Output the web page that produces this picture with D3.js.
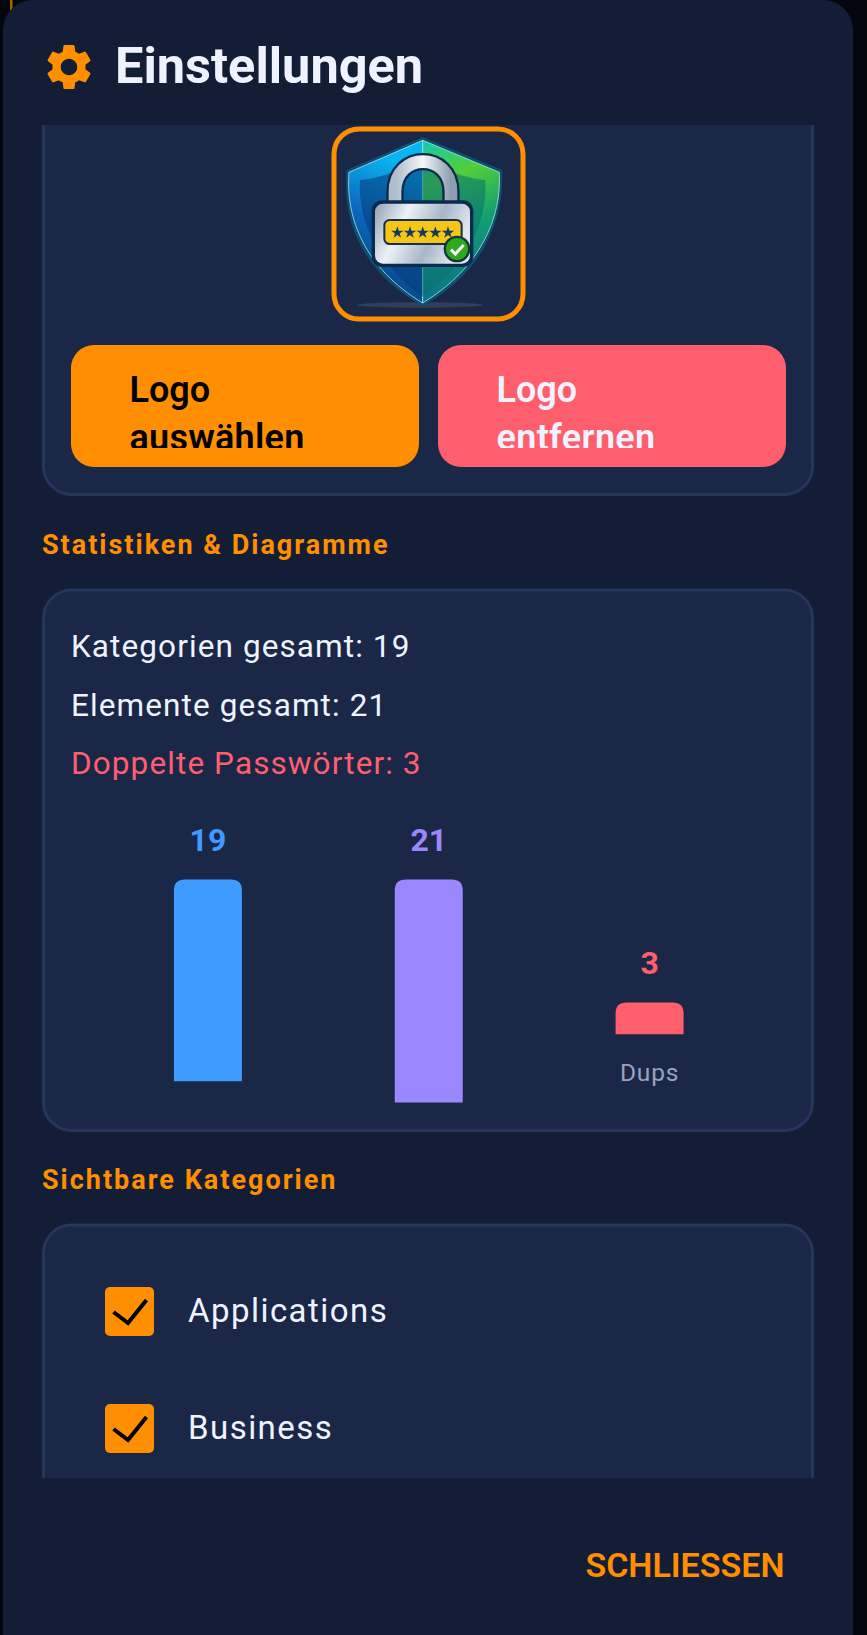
<!DOCTYPE html>
<html>
<head>
<meta charset="utf-8">
<script src="https://cdn.jsdelivr.net/npm/d3@7"></script>
<style>
  html, body { margin: 0; padding: 0; background: #04060d; }
  svg { display: block; font-family: Roboto, sans-serif; }
</style>
</head>
<body>
<div id="chart"></div>
<script>
// Stats dialog: three bars plus the settings panel round them

const categories = ['Kategorien', 'Elemente', 'Dups'];
const values = [19, 21, 3];
const barColors = ['#3f9bff', '#9b87ff', '#ff5f6d'];
const visibleAxisLabels = ['', '', 'Dups'];
const statLines = ['Kategorien gesamt: 19', 'Elemente gesamt: 21', 'Doppelte Passwörter: 3'];
const visibleCategories = ['Applications', 'Business'];

const ORANGE = '#ff8f00', RED = '#ff5f6d', LIGHT = '#eef3ff';
const CARD = '#1a2747', CARD_EDGE = '#26355a', PANEL = '#131d36';
const GEAR = 'M19.14,12.94c.04-.3.06-.61.06-.94 0-.32-.02-.64-.07-.94l2.03-1.58c.18-.14.23-.41.12-.61l-1.92-3.32c-.12-.22-.37-.29-.59-.22l-2.39.96c-.5-.38-1.03-.7-1.62-.94l-.36-2.54c-.04-.24-.24-.41-.48-.41h-3.84c-.24 0-.43.17-.47.41l-.36 2.54c-.59.24-1.13.57-1.62.94l-2.39-.96c-.22-.08-.47 0-.59.22L2.74 8.87c-.12.21-.08.47.12.61l2.03 1.58c-.05.3-.09.63-.09.94s.02.64.07.94l-2.03 1.58c-.18.14-.23.41-.12.61l1.92 3.32c.12.22.37.29.59.22l2.39-.96c.5.38 1.03.7 1.62.94l.36 2.54c.05.24.24.41.48.41h3.84c.24 0 .44-.17.47-.41l.36-2.54c.59-.24 1.13-.56 1.62-.94l2.39.96c.22.08.47 0 .59-.22l1.92-3.32c.12-.22.07-.47-.12-.61l-2.01-1.58zM12 15.6c-1.98 0-3.6-1.62-3.6-3.6s1.62-3.6 3.6-3.6 3.6 1.62 3.6 3.6-1.62 3.6-3.6 3.6z';

const svg = d3.select('#chart').append('svg').attr('width', 867).attr('height', 1635);
const defs = svg.append('defs');

function gradient(id, stops, x2 = 1, y2 = 0) {
    const g = defs.append('linearGradient').attr('id', id)
        .attr('x1', 0).attr('y1', 0).attr('x2', x2).attr('y2', y2);
    stops.forEach(s => g.append('stop').attr('offset', s[0]).attr('stop-color', s[1]));
}

function text(parent, str, x, y, size, fill, weight = 400, spacing = 0, anchor = 'start') {
    return parent.append('text')
        .attr('x', x).attr('y', y)
        .attr('font-size', size).attr('font-weight', weight)
        .attr('letter-spacing', spacing).attr('text-anchor', anchor)
        .attr('fill', fill).text(str);
}

// Panel
svg.append('rect').attr('width', 867).attr('height', 1635).attr('fill', '#04060d');
svg.append('rect').attr('x', 10).attr('y', 0).attr('width', 2.5).attr('height', 14).attr('fill', '#a86300');
svg.append('rect').attr('x', 3).attr('y', 0).attr('width', 850).attr('height', 1680).attr('rx', 30).attr('fill', PANEL);

// Cards: the scrolling area cuts the first and last at its edges
defs.append('clipPath').attr('id', 'scroll').append('rect')
    .attr('x', 40).attr('y', 125).attr('width', 776).attr('height', 1353);
const scroll = svg.append('g').attr('clip-path', 'url(#scroll)');
[[60, 496], [590, 1132], [1225, 1560]].forEach(([top, bottom]) => {
    scroll.append('rect')
        .attr('x', 43.5).attr('y', top).attr('width', 769).attr('height', bottom - top - 1.5)
        .attr('rx', 28).attr('fill', CARD)
        .attr('stroke', CARD_EDGE).attr('stroke-width', 3);
});

// Header
text(svg, 'Einstellungen', 115, 83, 50.5, LIGHT, 700);
svg.append('path').attr('d', GEAR).attr('fill', ORANGE)
    .attr('transform', 'translate(41.4,39.4) scale(2.3)');

// Logo, drawn in the coordinates of a 3x crop
gradient('shieldL', [[0, '#0ab4f2'], [0.4, '#0a66ba'], [1, '#06396f']], -0.2, 1);
gradient('shieldR', [[0, '#14c8b0'], [0.28, '#52cf38'], [0.6, '#14a070'], [1, '#0a6f8c']], 0.2, 1);
gradient('steel', [[0, '#8fa0b4'], [0.35, '#eef2f6'], [0.7, '#a8b6c6'], [1, '#dfe6ee']], 1, 0.3);
gradient('shackle', [[0, '#aebccb'], [0.5, '#f4f6f9'], [1, '#8d9db0']]);

svg.append('rect').attr('x', 334).attr('y', 129).attr('width', 189).attr('height', 190).attr('rx', 25)
    .attr('fill', 'none').attr('stroke', ORANGE).attr('stroke-width', 5);

const logo = svg.append('g').attr('transform', 'translate(320,115) scale(0.3333)');
logo.append('ellipse').attr('cx', 300).attr('cy', 570).attr('rx', 190).attr('ry', 8).attr('fill', '#5a6478').attr('opacity', 0.4);
logo.append('path').attr('d', 'M308 66 L547 165 C552 320 490 470 308 574 C125 470 66 320 80 165 Z').attr('fill', '#0c4f6e');
logo.append('path').attr('d', 'M308 76 L308 564 C135 460 76 310 87 172 Z').attr('fill', 'url(#shieldL)')
    .attr('stroke', '#a7dcf0').attr('stroke-width', 2.5);
logo.append('path').attr('d', 'M308 76 L308 564 C480 460 546 310 538 172 Z').attr('fill', 'url(#shieldR)')
    .attr('stroke', '#a2e6d8').attr('stroke-width', 2.5);
logo.append('path').attr('d', 'M120 195 C190 190 250 160 308 130 L308 545 C170 450 112 310 120 195 Z').attr('fill', '#063a78').attr('opacity', 0.55);
logo.append('path').attr('d', 'M496 195 C426 190 366 160 308 130 L308 545 C446 450 504 310 496 195 Z').attr('fill', '#0a6f70').attr('opacity', 0.55);
logo.append('path').attr('d', 'M225 280 V230 C225 110 393 110 393 230 V280').attr('fill', 'none')
    .attr('stroke', '#0a2b4e').attr('stroke-width', 52);
logo.append('path').attr('d', 'M225 280 V230 C225 110 393 110 393 230 V280').attr('fill', 'none')
    .attr('stroke', 'url(#shackle)').attr('stroke-width', 38);
logo.append('rect').attr('x', 155).attr('y', 256).attr('width', 305).attr('height', 200).attr('rx', 30).attr('fill', '#0a2b4e');
logo.append('rect').attr('x', 165).attr('y', 266).attr('width', 285).attr('height', 180).attr('rx', 24).attr('fill', 'url(#steel)');
logo.append('rect').attr('x', 193).attr('y', 315).attr('width', 232).attr('height', 72).attr('rx', 16)
    .attr('fill', '#f5c518').attr('stroke', '#12304f').attr('stroke-width', 6);
d3.range(5).forEach(i => {
    logo.append('path').attr('d', d3.symbol(d3.symbolStar, 420)())
        .attr('transform', `translate(${232 + i * 38},353)`).attr('fill', '#123a5f');
});
logo.append('circle').attr('cx', 411).attr('cy', 402).attr('r', 40).attr('fill', '#0d3b33');
logo.append('circle').attr('cx', 411).attr('cy', 402).attr('r', 33).attr('fill', '#2fa81e');
logo.append('path').attr('d', 'M393 404 L406 417 L431 390').attr('fill', 'none')
    .attr('stroke', '#fff').attr('stroke-width', 9);

// Buttons, with the second line cut by the button's fixed height
defs.append('clipPath').attr('id', 'btnText').append('rect')
    .attr('x', 0).attr('y', 345).attr('width', 867).attr('height', 103);
svg.append('rect').attr('x', 71).attr('y', 345).attr('width', 348).attr('height', 122).attr('rx', 23).attr('fill', ORANGE);
svg.append('rect').attr('x', 438).attr('y', 345).attr('width', 348).attr('height', 122).attr('rx', 23).attr('fill', RED);
const btnText = svg.append('g').attr('clip-path', 'url(#btnText)');
text(btnText, 'Logo', 129.5, 402, 36, '#000', 600);
text(btnText, 'auswählen', 129.5, 450, 36, '#000', 600, 0.25);
text(btnText, 'Logo', 496.5, 402, 36, LIGHT, 600);
text(btnText, 'entfernen', 496.5, 450, 36, LIGHT, 600, 0.35);

// Section titles
text(svg, 'Statistiken & Diagramme', 42, 554, 27, ORANGE, 700, 2);
text(svg, 'Sichtbare Kategorien', 42, 1189, 27, ORANGE, 700, 2);

// Stat lines
const statRow = d3.scalePoint().domain(statLines).range([657, 774]);
statLines.forEach((line, i) => {
    text(svg, line, 71, statRow(line), 31.5, i === 2 ? RED : LIGHT, 400, 1.1);
});

// Bars: one scale for height, the columns are hung from two different tops
const x = d3.scaleBand().domain(categories).range([97.5, 760]);
const barHeight = d3.scaleLinear().domain([0, 21]).range([0, 223]);
const barWidth = 68;
const radius = 11;
const barTop = (d, i) => visibleAxisLabels[i] ? 1002.5 : 879.5;
const cx = d => x(d) + x.bandwidth() / 2;

const columns = svg.selectAll('.column')
    .data(categories)
    .enter()
    .append('g')
    .attr('class', 'column');

columns.append('path')
    .attr('fill', (d, i) => barColors[i])
    .attr('d', (d, i) => {
        const l = cx(d) - barWidth / 2, t = barTop(d, i), h = barHeight(values[i]);
        return `M${l},${t + h}V${t + radius}Q${l},${t} ${l + radius},${t}H${l + barWidth - radius}Q${l + barWidth},${t} ${l + barWidth},${t + radius}V${t + h}Z`;
    });

columns.append('text')
    .attr('x', d => cx(d))
    .attr('y', (d, i) => barTop(d, i) - 29)
    .attr('text-anchor', 'middle')
    .attr('font-size', 32)
    .attr('font-weight', 700)
    .attr('fill', (d, i) => barColors[i])
    .text((d, i) => values[i]);

columns.append('text')
    .attr('x', d => cx(d))
    .attr('y', (d, i) => barTop(d, i) + barHeight(values[i]) + 47)
    .attr('text-anchor', 'middle')
    .attr('font-size', 24.5)
    .attr('letter-spacing', 0.8)
    .attr('fill', '#98a3bf')
    .text((d, i) => visibleAxisLabels[i]);

// Checkbox list
const row = d3.scalePoint().domain(visibleCategories).range([1287, 1404]);
visibleCategories.forEach(name => {
    const g = svg.append('g').attr('transform', `translate(105,${row(name)})`);
    g.append('rect').attr('width', 49).attr('height', 49).attr('rx', 5).attr('fill', ORANGE);
    g.append('path').attr('d', 'M8.5 25 L23 36 L41.5 13').attr('fill', 'none')
        .attr('stroke', '#000').attr('stroke-width', 4);
    text(svg, name, 188, row(name) + 35, 33, LIGHT, 400, 1.45);
});

// Footer
text(svg, 'SCHLIESSEN', 784.5, 1577, 34, ORANGE, 600, 0, 'end');
</script>
</body>
</html>
